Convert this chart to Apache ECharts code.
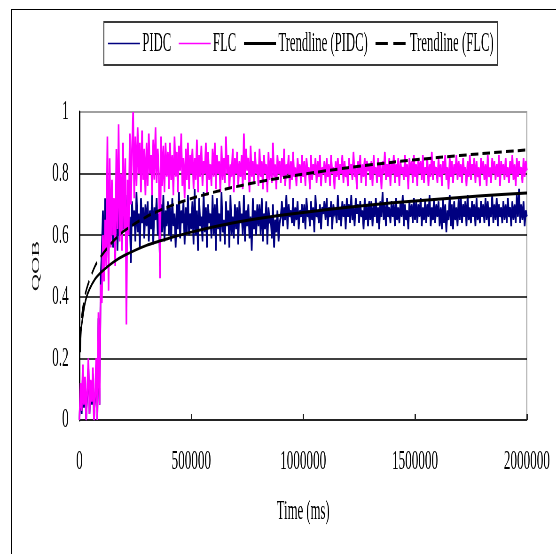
<!DOCTYPE html>
<html>
<head>
<meta charset="utf-8">
<script src="https://cdn.jsdelivr.net/npm/echarts@6/dist/echarts.min.js"></script>
<style>
html, body { margin: 0; padding: 0; background: #ffffff; overflow: hidden; width: 556px; height: 554px; }
#chart { position: absolute; left: 0; top: 0; width: 1183px; height: 554px; transform: scaleX(0.47); transform-origin: 0 0; }
#frame { position: absolute; left: 11px; top: 9px; width: 700px; height: 700px; border-left: 1.5px solid #000; border-top: 1.5px solid #000; pointer-events: none; }
</style>
</head>
<body>
<div id="chart"></div>
<div id="frame"></div>
<script>
// ---- data ----
const seriesNames = ['PIDC', 'FLC', 'Trendline (PIDC)', 'Trendline (FLC)'];
const timeStep = 5000; // ms between samples

const pidcValues = [
  0, 0.1, 0.02, 0.15, 0.04, 0.12, 0, 0.09, 0.18, 0.02, 0.12, 0.05, 0.15, 0, 0.07, 0.18, 0, 0.33, 0.05, 0.46,
  0.55, 0.68, 0.5, 0.72, 0.58, 0.66, 0.52, 0.7, 0.6, 0.74, 0.56, 0.67, 0.62, 0.73, 0.55, 0.69, 0.6, 0.75, 0.57, 0.68,
  0.62, 0.7, 0.55, 0.73, 0.6, 0.66, 0.51, 0.71, 0.63, 0.68, 0.58, 0.74, 0.61, 0.67, 0.56, 0.72, 0.64, 0.69, 0.59, 0.7,
  0.63, 0.71, 0.58, 0.68, 0.62, 0.74, 0.57, 0.69, 0.65, 0.72, 0.6, 0.67, 0.5, 0.7, 0.61, 0.73, 0.58, 0.68, 0.63, 0.71,
  0.6, 0.69, 0.58, 0.72, 0.63, 0.67, 0.56, 0.7, 0.62, 0.74, 0.59, 0.68, 0.64, 0.71, 0.57, 0.69, 0.61, 0.73, 0.6, 0.67,
  0.62, 0.71, 0.57, 0.75, 0.6, 0.68, 0.55, 0.72, 0.63, 0.66, 0.58, 0.74, 0.61, 0.69, 0.56, 0.7, 0.64, 0.67, 0.59, 0.73,
  0.6, 0.7, 0.55, 0.72, 0.62, 0.67, 0.58, 0.74, 0.61, 0.65, 0.57, 0.71, 0.63, 0.68, 0.56, 0.73, 0.6, 0.66, 0.59, 0.7,
  0.62, 0.69, 0.57, 0.71, 0.64, 0.67, 0.6, 0.73, 0.58, 0.68, 0.63, 0.7, 0.59, 0.66, 0.55, 0.72, 0.62, 0.68, 0.6, 0.7,
  0.63, 0.7, 0.6, 0.72, 0.58, 0.67, 0.62, 0.71, 0.57, 0.69, 0.64, 0.66, 0.59, 0.7, 0.56, 0.65, 0.61, 0.68, 0.58, 0.64,
  0.66, 0.71, 0.63, 0.69, 0.65, 0.73, 0.62, 0.7, 0.66, 0.68, 0.64, 0.72, 0.63, 0.69, 0.65, 0.71, 0.62, 0.68, 0.66, 0.7,
  0.64, 0.7, 0.62, 0.72, 0.66, 0.68, 0.63, 0.71, 0.65, 0.69, 0.61, 0.73, 0.66, 0.68, 0.64, 0.7, 0.62, 0.69, 0.67, 0.71,
  0.65, 0.72, 0.63, 0.69, 0.66, 0.71, 0.62, 0.7, 0.67, 0.68, 0.64, 0.73, 0.65, 0.69, 0.63, 0.71, 0.66, 0.7, 0.62, 0.72,
  0.66, 0.7, 0.64, 0.73, 0.65, 0.69, 0.63, 0.72, 0.67, 0.7, 0.64, 0.71, 0.66, 0.68, 0.62, 0.72, 0.65, 0.7, 0.63, 0.71,
  0.65, 0.71, 0.63, 0.7, 0.66, 0.72, 0.64, 0.69, 0.62, 0.71, 0.66, 0.74, 0.65, 0.7, 0.63, 0.72, 0.66, 0.69, 0.64, 0.71,
  0.66, 0.7, 0.63, 0.72, 0.65, 0.69, 0.64, 0.71, 0.66, 0.73, 0.63, 0.7, 0.65, 0.68, 0.62, 0.71, 0.66, 0.7, 0.64, 0.72,
  0.65, 0.71, 0.64, 0.7, 0.66, 0.72, 0.63, 0.69, 0.65, 0.71, 0.64, 0.7, 0.66, 0.73, 0.63, 0.69, 0.65, 0.72, 0.64, 0.7,
  0.66, 0.71, 0.63, 0.69, 0.62, 0.72, 0.64, 0.7, 0.61, 0.68, 0.65, 0.73, 0.63, 0.7, 0.62, 0.71, 0.65, 0.69, 0.63, 0.72,
  0.65, 0.72, 0.64, 0.7, 0.66, 0.71, 0.63, 0.73, 0.65, 0.69, 0.64, 0.71, 0.66, 0.7, 0.63, 0.72, 0.65, 0.69, 0.64, 0.71,
  0.66, 0.7, 0.64, 0.72, 0.65, 0.71, 0.63, 0.69, 0.66, 0.73, 0.64, 0.7, 0.65, 0.72, 0.63, 0.7, 0.66, 0.69, 0.64, 0.71,
  0.65, 0.7, 0.64, 0.72, 0.66, 0.69, 0.63, 0.71, 0.65, 0.7, 0.64, 0.73, 0.66, 0.75, 0.64, 0.7, 0.65, 0.71, 0.63, 0.68,
  0.66
];

const flcValues = [
  0, 0.12, 0.03, 0.18, 0.05, 0.14, 0, 0.1, 0.2, 0.02, 0.13, 0.06, 0.17, 0, 0.08, 0.2, 0, 0.35, 0.05, 0.44,
  0.38, 0.6, 0.45, 0.65, 0.5, 0.92, 0.42, 0.85, 0.56, 0.78, 0.6, 0.72, 0.5, 0.88, 0.62, 0.96, 0.58, 0.8, 0.55, 0.9,
  0.62, 0.85, 0.31, 0.78, 0.6, 0.93, 0.7, 0.88, 1.0, 0.72, 0.92, 0.76, 0.95, 0.8, 0.9, 0.74, 0.94, 0.78, 0.88, 0.73,
  0.9, 0.76, 0.93, 0.8, 0.86, 0.73, 0.91, 0.78, 0.95, 0.77, 0.88, 0.8, 0.46, 0.92, 0.76, 0.89, 0.74, 0.9, 0.79, 0.87,
  0.75, 0.9, 0.78, 0.86, 0.73, 0.92, 0.79, 0.87, 0.74, 0.89, 0.81, 0.93, 0.76, 0.85, 0.72, 0.88, 0.78, 0.9, 0.75, 0.86,
  0.8, 0.88, 0.75, 0.85, 0.78, 0.91, 0.74, 0.86, 0.79, 0.89, 0.76, 0.84, 0.8, 0.9, 0.73, 0.87, 0.78, 0.83, 0.76, 0.88,
  0.79, 0.9, 0.75, 0.86, 0.8, 0.84, 0.74, 0.89, 0.78, 0.85, 0.77, 0.92, 0.8, 0.86, 0.75, 0.83, 0.79, 0.88, 0.74, 0.85,
  0.8, 0.87, 0.76, 0.84, 0.79, 0.86, 0.75, 0.93, 0.78, 0.88, 0.81, 0.85, 0.74, 0.89, 0.79, 0.84, 0.77, 0.87, 0.8, 0.83,
  0.76, 0.88, 0.79, 0.84, 0.75, 0.86, 0.8, 0.83, 0.74, 0.87, 0.78, 0.85, 0.77, 0.9, 0.79, 0.83, 0.75, 0.86, 0.8, 0.84,
  0.77, 0.85, 0.79, 0.88, 0.76, 0.83, 0.8, 0.86, 0.75, 0.84, 0.78, 0.87, 0.79, 0.82, 0.76, 0.85, 0.8, 0.83, 0.77, 0.86,
  0.79, 0.84, 0.76, 0.85, 0.8, 0.82, 0.75, 0.86, 0.78, 0.83, 0.8, 0.85, 0.77, 0.84, 0.79, 0.86, 0.76, 0.82, 0.8, 0.84,
  0.77, 0.85, 0.79, 0.83, 0.76, 0.86, 0.8, 0.82, 0.75, 0.84, 0.79, 0.85, 0.78, 0.83, 0.8, 0.86, 0.77, 0.84, 0.79, 0.82,
  0.76, 0.85, 0.8, 0.83, 0.78, 0.87, 0.79, 0.82, 0.75, 0.84, 0.8, 0.86, 0.77, 0.83, 0.79, 0.85, 0.76, 0.84, 0.81, 0.83,
  0.78, 0.84, 0.76, 0.86, 0.8, 0.82, 0.77, 0.85, 0.79, 0.83, 0.75, 0.84, 0.8, 0.87, 0.78, 0.83, 0.79, 0.85, 0.76, 0.84,
  0.8, 0.86, 0.77, 0.83, 0.79, 0.85, 0.76, 0.84, 0.8, 0.82, 0.78, 0.86, 0.79, 0.83, 0.75, 0.85, 0.8, 0.84, 0.77, 0.86,
  0.79, 0.83, 0.76, 0.85, 0.8, 0.84, 0.78, 0.86, 0.77, 0.82, 0.8, 0.85, 0.76, 0.83, 0.79, 0.87, 0.78, 0.84, 0.8, 0.82,
  0.77, 0.85, 0.79, 0.83, 0.76, 0.84, 0.8, 0.86, 0.78, 0.82, 0.75, 0.85, 0.79, 0.84, 0.77, 0.83, 0.8, 0.86, 0.78, 0.84,
  0.79, 0.83, 0.77, 0.85, 0.8, 0.82, 0.76, 0.84, 0.79, 0.86, 0.78, 0.83, 0.8, 0.85, 0.77, 0.84, 0.79, 0.82, 0.76, 0.85,
  0.8, 0.84, 0.78, 0.83, 0.76, 0.86, 0.79, 0.82, 0.77, 0.85, 0.8, 0.84, 0.78, 0.83, 0.79, 0.86, 0.76, 0.84, 0.8, 0.83,
  0.78, 0.85, 0.79, 0.82, 0.77, 0.84, 0.8, 0.86, 0.78, 0.83, 0.76, 0.85, 0.79, 0.84, 0.8, 0.82, 0.77, 0.85, 0.79, 0.84,
  0.81
];

const trendTimes = [3000, 7000, 12000, 20000, 30000, 45000, 70000, 100000, 150000, 200000, 300000, 400000, 500000, 650000, 800000, 1000000, 1200000, 1400000, 1600000, 1800000, 2000000];
const pidcTrend = [0.22, 0.29, 0.32, 0.36, 0.395, 0.425, 0.458, 0.482, 0.512, 0.534, 0.567, 0.59, 0.61, 0.635, 0.654, 0.674, 0.691, 0.705, 0.717, 0.728, 0.737];
const flcTrend = [0.25, 0.31, 0.345, 0.385, 0.42, 0.455, 0.5, 0.535, 0.58, 0.614, 0.66, 0.693, 0.719, 0.749, 0.773, 0.798, 0.819, 0.837, 0.852, 0.865, 0.877];

const xTicks = [0, 500000, 1000000, 1500000, 2000000];
const yTicks = [0, 0.2, 0.4, 0.6, 0.8, 1];
const xTitle = 'Time (ms)';
const yTitle = 'QOB';

// ---- build ----
const times = pidcValues.map((_, i) => i * timeStep);
const pair = (xs, ys) => xs.map((x, i) => [x, ys[i]]);
const FONT = "'Liberation Serif', 'Times New Roman', 'DejaVu Serif', serif";

const chart = echarts.init(document.getElementById('chart'), null, { renderer: 'canvas' });
chart.setOption({
  animation: false,
  backgroundColor: '#ffffff',
  textStyle: { fontFamily: FONT, color: '#000' },
  legend: {
    left: 221,
    top: 22,
    orient: 'horizontal',
    padding: [8, 8, 8, 8],
    itemGap: 15,
    itemWidth: 68,
    itemHeight: 14,
    borderColor: '#3a3a3a',
    borderWidth: 2,
    itemStyle: { opacity: 0 },
    textStyle: { fontFamily: FONT, fontSize: 27, color: '#000' },
    data: [
      { name: seriesNames[0], lineStyle: { width: 1.6 } },
      { name: seriesNames[1], lineStyle: { width: 1.6 } },
      { name: seriesNames[2], lineStyle: { width: 3 } },
      { name: seriesNames[3], lineStyle: { width: 3, type: [26, 12] } }
    ]
  },
  grid: {
    left: 169, right: 62, top: 112, bottom: 134,
    show: true, borderColor: '#a0a0a0', borderWidth: 2, backgroundColor: '#ffffff'
  },
  xAxis: {
    type: 'value',
    min: xTicks[0], max: xTicks[xTicks.length - 1], interval: xTicks[1] - xTicks[0],
    name: xTitle, nameLocation: 'middle', nameGap: 78,
    nameTextStyle: { fontFamily: FONT, fontSize: 27, color: '#000' },
    axisLine: { show: true, onZero: false, lineStyle: { color: '#222', width: 1.6 } },
    axisTick: { show: true, inside: true, length: 6, lineStyle: { color: '#222', width: 3 } },
    axisLabel: { margin: 28, fontFamily: FONT, fontSize: 28, color: '#000', formatter: v => String(v) },
    splitLine: { show: false }
  },
  yAxis: {
    type: 'value',
    min: yTicks[0], max: yTicks[yTicks.length - 1], interval: yTicks[1] - yTicks[0],
    name: yTitle, nameLocation: 'middle', nameGap: 80, nameRotate: 90,
    nameTextStyle: { fontFamily: FONT, fontSize: 24, color: '#111' },
    axisLine: { show: true, lineStyle: { color: '#000', width: 3 } },
    axisTick: { show: false },
    axisLabel: { margin: 23, fontFamily: FONT, fontSize: 28, color: '#000', formatter: v => String(+v.toFixed(1)) },
    splitLine: { show: true, lineStyle: { color: ['#000', '#000', '#000', '#000', '#000', '#a0a0a0'], width: 1.5 } }
  },
  series: [
    {
      name: seriesNames[0], type: 'line', data: pair(times, pidcValues),
      symbol: 'none', showSymbol: false, z: 2,
      lineStyle: { color: '#000080', width: 3.6, join: 'miter', miterLimit: 3 }, itemStyle: { color: '#000080' }
    },
    {
      name: seriesNames[1], type: 'line', data: pair(times, flcValues),
      symbol: 'none', showSymbol: false, z: 3,
      lineStyle: { color: '#ff00ff', width: 3.6, join: 'miter', miterLimit: 3 }, itemStyle: { color: '#ff00ff' }
    },
    {
      name: seriesNames[2], type: 'line', data: pair(trendTimes, pidcTrend),
      symbol: 'none', showSymbol: false, smooth: 0.3, z: 4,
      lineStyle: { color: '#000', width: 3 }, itemStyle: { color: '#000' }
    },
    {
      name: seriesNames[3], type: 'line', data: pair(trendTimes, flcTrend),
      symbol: 'none', showSymbol: false, smooth: 0.3, z: 5,
      lineStyle: { color: '#000', width: 3, type: [16, 9] }, itemStyle: { color: '#000' }
    }
  ]
});
</script>
</body>
</html>
